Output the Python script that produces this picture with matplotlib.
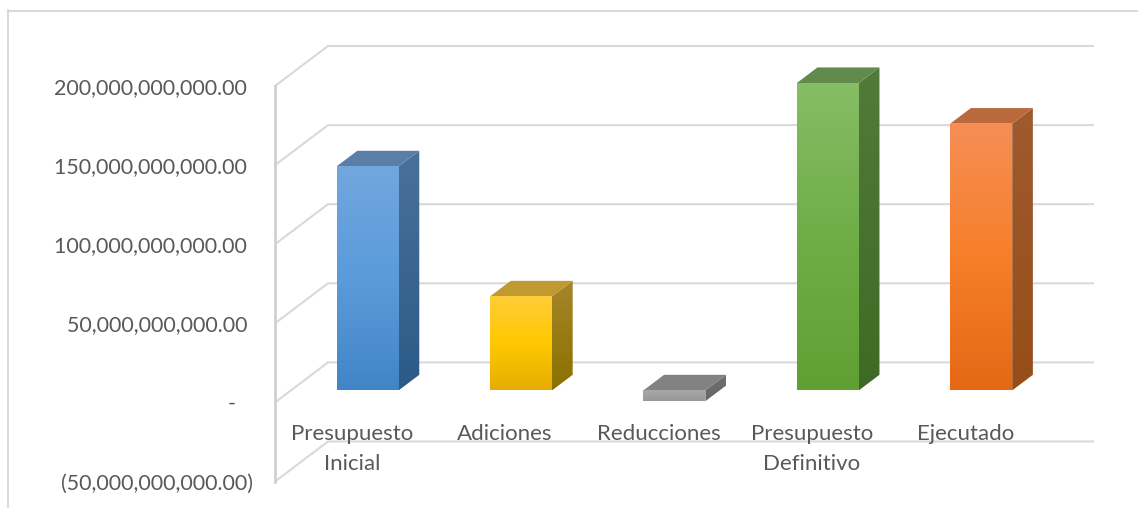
import matplotlib
matplotlib.use("Agg")
import matplotlib.pyplot as plt
import numpy as np
from matplotlib.colors import to_rgb
from matplotlib.lines import Line2D
from matplotlib.patches import Polygon

categories = ["Presupuesto\nInicial", "Adiciones", "Reducciones", "Presupuesto\nDefinitivo", "Ejecutado"]
values = [141.6e9, 59.4e9, -6.8e9, 194.3e9, 168.6e9]
axis_values = [-50e9, 0, 50e9, 100e9, 150e9, 200e9]
axis_labels = ["(50,000,000,000.00)", "-\u00a0\u00a0\u00a0", "50,000,000,000.00\u00a0",
               "100,000,000,000.00\u00a0", "150,000,000,000.00\u00a0", "200,000,000,000.00\u00a0"]

# front face gradient (top, middle, bottom), side gradient (top, bottom), top face
front_colors = [("#72a7de", "#5a9bdb", "#4285c6"), ("#ffcd38", "#ffc800", "#e6ad00"),
                ("#a8a8a8", "#a0a0a0", "#989898"), ("#86bd66", "#70ad47", "#60a032"),
                ("#f58e55", "#f77f2a", "#e56815")]
side_colors = [("#4a7199", "#2b5a88"), ("#a6862a", "#8c7000"), ("#707070", "#666666"),
               ("#527a3a", "#3f6a25"), ("#9f5a2e", "#964d18")]
top_colors = ["#5a7ea8", "#bf9a30", "#828282", "#638a4d", "#b9693c"]

W, H = 1138, 508
# pixel layout of the box
left, right, back_top, front_bottom = 275, 1094, 46.5, 481.5
step_px = 79.1
cat_px = 153.4
dx_px, dy_px = 53, 40

plt.rcParams["font.family"] = ["Lato", "DejaVu Sans"]
fig = plt.figure(figsize=(W / 100, H / 100), dpi=100)
ax = fig.add_axes([left / W, (H - front_bottom) / H, (right - left) / W, (front_bottom - back_top) / H])

x_max = -0.5 + (right - left) / cat_px
y_max = -50e9 + (front_bottom - back_top) / step_px * 50e9
ax.set_xlim(-0.5, x_max)
ax.set_ylim(-50e9, y_max)
ax.set_autoscale_on(False)

DX = dx_px / cat_px
DY = dy_px / step_px * 50e9


def proj(x, v, f):
    # oblique projection, f is depth from the front wall (0) to the back wall (1)
    return x + f * DX, v + f * DY


def grad_face(pts, stops):
    patch = Polygon(pts, closed=True, facecolor="none", edgecolor="none", zorder=3)
    ax.add_patch(patch)
    xs, ys = zip(*pts)
    pos = np.linspace(0, 1, len(stops))
    rgb = np.array([to_rgb(c) for c in stops])
    t = np.linspace(0, 1, 128)
    img = np.stack([np.interp(t, pos, rgb[:, i]) for i in range(3)], axis=1)[:, None, :]
    im = ax.imshow(img, extent=(min(xs), max(xs), min(ys), max(ys)), origin="upper",
                   aspect="auto", zorder=3, interpolation="bilinear")
    im.set_clip_path(patch)


# walls and gridlines
grid = "#d9d9d9"
for v in axis_values:
    x0, y0 = proj(-0.5, v, 0)
    x1, y1 = proj(-0.5, v, 1)
    ax.plot([x0, x1, x_max], [y0, y1, y1], color=grid, lw=1.5, zorder=1, clip_on=False,
            solid_joinstyle="miter", solid_capstyle="butt")
ax.plot([-0.5, -0.5], [-50e9, 200e9], color="#d0d0d0", lw=2, zorder=1, clip_on=False)

# bars
half = 31 / cat_px
f0, f1 = 0.3, 0.69
for i, v in enumerate(values):
    lo, hi = min(v, 0), max(v, 0)
    xa, xb = i - half, i + half
    front = [proj(xa, hi, f0), proj(xb, hi, f0), proj(xb, lo, f0), proj(xa, lo, f0)]
    side = [proj(xb, hi, f0), proj(xb, hi, f1), proj(xb, lo, f1), proj(xb, lo, f0)]
    top = [proj(xa, hi, f0), proj(xa, hi, f1), proj(xb, hi, f1), proj(xb, hi, f0)]
    grad_face(side, side_colors[i])
    ax.add_patch(Polygon(top, closed=True, facecolor=top_colors[i], edgecolor="none", zorder=3))
    grad_face(front, front_colors[i])

ax.set_xticks(range(len(categories)))
ax.set_xticklabels(categories, linespacing=1.6)
ax.set_yticks(axis_values)
ax.set_yticklabels(axis_labels)
ax.tick_params(axis="x", length=0, pad=-41.2, labelsize=16, labelcolor="#595959")
ax.tick_params(axis="y", length=0, pad=16, labelsize=15.4, labelcolor="#595959")
for s in ax.spines.values():
    s.set_visible(False)
ax.patch.set_visible(False)

# chart frame
frame = "#d9d9d9"
fig.add_artist(Line2D([8 / W, 8 / W], [0, (H - 10) / H], color=frame, lw=1.4))
fig.add_artist(Line2D([8 / W, 1], [(H - 10.5) / H, (H - 10.5) / H], color=frame, lw=1.4))

fig.savefig("out.png", dpi=100)
